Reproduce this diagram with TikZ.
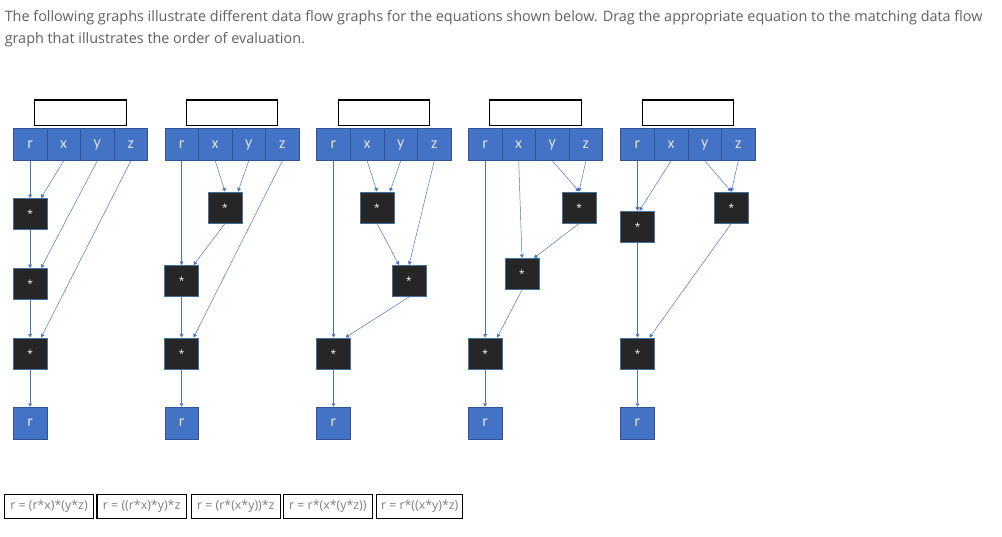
\documentclass[tikz,border=0pt]{standalone}
\usepackage{fontspec}
\setmainfont{Open Sans}
\newfontfamily\cellfont{Carlito}
\usetikzlibrary{arrows.meta,calc}
\definecolor{cellblue}{HTML}{4472C4}
\definecolor{celledge}{HTML}{2F5597}
\definecolor{boxblack}{HTML}{262626}
\definecolor{boxedge}{HTML}{41719C}
\definecolor{txtgray}{HTML}{606060}
\definecolor{eqgray}{HTML}{7F7F7F}
\definecolor{lettercol}{HTML}{DCE4F2}
\tikzset{
  cell/.style={draw=celledge,line width=0.4pt,fill=cellblue,minimum width=25.2pt,minimum height=24pt,inner sep=0pt,text=lettercol,font=\cellfont\fontsize{12pt}{13pt}\selectfont},
  opbox/.style={draw=boxedge,line width=0.4pt,fill=boxblack,minimum width=25.5pt,minimum height=23.6pt,inner sep=0pt,text=white,font=\fontsize{7.5pt}{8pt}\selectfont},
  outbox/.style={cell},
  ans/.style={draw=black,line width=1pt,fill=white,minimum width=68.6pt,minimum height=18.9pt,inner sep=0pt},
  eq/.style={draw=black,line width=0.8pt,minimum height=17.7pt,inner sep=0pt,text=eqgray,font=\fontsize{9.3pt}{10pt}\selectfont},
  edge/.style={draw=cellblue,line width=0.35pt,-{Triangle[length=2.6pt,width=2.8pt]}},
  intro/.style={anchor=base west,inner sep=0pt,text=txtgray,font=\fontsize{10.8pt}{12pt}\selectfont}
}
\newcommand\mkhdr[2]{%
  \node[ans] (#1t) at (#2+67.2,112.7) {};
  \node[cell] (#1r) at (#2+16.8,144.5) {r};
  \node[cell] (#1x) at (#2+50.4,144.5) {x};
  \node[cell] (#1y) at (#2+84.0,144.5) {y};
  \node[cell] (#1z) at (#2+117.6,144.5) {z};
  \node[outbox] (#1o) at (#2+16.8,423) {r};
}
\begin{document}
\begin{tikzpicture}[x=0.75pt,y=-0.75pt]
\useasboundingbox[fill=white] (0,0) rectangle (1002,536);
\node[intro] (l1) at (4.5,21) {The following graphs illustrate different data flow graphs for the equations shown below. Drag the appropriate equation to the matching data flow};
\node[intro] (l2) at (4.5,43) {graph that illustrates the order of evaluation.};

% ---- graph 1
\mkhdr{a}{13.3}
\node[opbox] (aA) at (30.1,214) {*};
\node[opbox] (aB) at (30.1,284) {*};
\node[opbox] (aC) at (30.1,353.5) {*};
\draw[edge] (ar.south) -- (aA.north);
\draw[edge] (ax.south) -- ($(aA.north)+(11,0)$);
\draw[edge] (aA.south) -- (aB.north);
\draw[edge] (ay.south) -- ($(aB.north)+(11,0)$);
\draw[edge] (aB.south) -- (aC.north);
\draw[edge] (az.south) -- ($(aC.north)+(11,0)$);
\draw[edge] (aC.south) -- (ao.north);

% ---- graph 2
\mkhdr{b}{164.8}
\node[opbox] (bA) at (225,207.5) {*};
\node[opbox] (bB) at (181.6,281) {*};
\node[opbox] (bC) at (181.6,353.5) {*};
\draw[edge] (bx.south) -- (bA.north);
\draw[edge] (by.south) -- ($(bA.north)+(13,0)$);
\draw[edge] (bA.south) -- ($(bB.north)+(12,0)$);
\draw[edge] (br.south) -- (bB.north);
\draw[edge] (bB.south) -- (bC.north);
\draw[edge] (bz.south) -- ($(bC.north)+(12,0)$);
\draw[edge] (bC.south) -- (bo.north);

% ---- graph 3
\mkhdr{c}{316.7}
\node[opbox] (cA) at (377,207.5) {*};
\node[opbox] (cB) at (409,281) {*};
\node[opbox] (cC) at (333.5,353.5) {*};
\draw[edge] (cx.south) -- (cA.north);
\draw[edge] (cy.south) -- ($(cA.north)+(13,0)$);
\draw[edge] (cA.south) -- ($(cB.north)+(-10,0)$);
\draw[edge] (cz.south) -- (cB.north);
\draw[edge] (cB.south) -- ($(cC.north)+(12,0)$);
\draw[edge] (cr.south) -- (cC.north);
\draw[edge] (cC.south) -- (co.north);

% ---- graph 4
\mkhdr{d}{468.3}
\node[opbox] (dA) at (579,207.5) {*};
\node[opbox] (dB) at (522,274) {*};
\node[opbox] (dC) at (485.1,353.5) {*};
\draw[edge] (dy.south) -- (dA.north);
\draw[edge] (dz.south) -- (dA.north);
\draw[edge] (dx.south) -- (dB.north);
\draw[edge] (dA.south) -- ($(dB.north)+(12,0)$);
\draw[edge] (dB.south) -- ($(dC.north)+(12,0)$);
\draw[edge] (dr.south) -- (dC.north);
\draw[edge] (dC.south) -- (do.north);

% ---- graph 5
\mkhdr{e}{620.7}
\node[opbox] (eA) at (637.5,226.7) {*};
\node[opbox] (eB) at (731.3,207.5) {*};
\node[opbox] (eC) at (637.5,353.5) {*};
\draw[edge] (er.south) -- (eA.north);
\draw[edge] (ex.south) -- ($(eA.north)+(2,0)$);
\draw[edge] (ey.south) -- (eB.north);
\draw[edge] (ez.south) -- (eB.north);
\draw[edge] (eA.south) -- (eC.north);
\draw[edge] (eB.south) -- ($(eC.north)+(12,0)$);
\draw[edge] (eC.south) -- (eo.north);

% ---- equations
\node[eq,minimum width=67pt] (q1) at (49,506.5) {r = (r*x)*(y*z)};
\node[eq,minimum width=67pt] (q2) at (141.65,506.5) {r = ((r*x)*y)*z};
\node[eq,minimum width=66.75pt] (q3) at (235.8,506.5) {r = (r*(x*y))*z};
\node[eq,minimum width=66.75pt] (q4) at (327.8,506.5) {r = r*(x*(y*z))};
\node[eq,minimum width=64.5pt] (q5) at (419.7,506.5) {r = r*((x*y)*z)};
\end{tikzpicture}
\end{document}
